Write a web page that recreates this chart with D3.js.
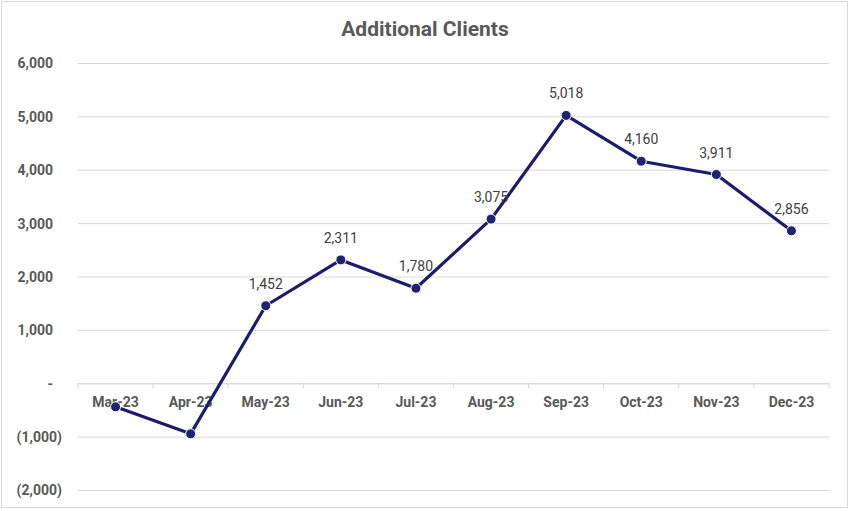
<!DOCTYPE html>
<html>
<head>
<meta charset="utf-8">
<script src="https://cdn.jsdelivr.net/npm/d3@7"></script>
<style>
  body { margin: 0; background: #fff; }
  svg { display: block; }
</style>
</head>
<body>
<svg id="chart" width="850" height="511"></svg>
<script>
// data
var months = ["Mar-23", "Apr-23", "May-23", "Jun-23", "Jul-23", "Aug-23", "Sep-23", "Oct-23", "Nov-23", "Dec-23"];
var clients = [-442, -948, 1452, 2311, 1780, 3075, 5018, 4160, 3911, 2856];
var yTicks = [-2000, -1000, 0, 1000, 2000, 3000, 4000, 5000, 6000];

var width = 850, height = 511;
var margin = {top: 63, right: 21, bottom: 21, left: 78};

var svg = d3.select("#chart");

// outer frame
svg.append("rect")
  .attr("x", 1.5)
  .attr("y", 1.5)
  .attr("width", width - 4)
  .attr("height", height - 5)
  .attr("fill", "#fff")
  .attr("stroke", "#d9d9d9")
  .attr("stroke-width", 1)

var x = d3.scaleBand()
  .domain(months)
  .range([margin.left, width - margin.right])

var y = d3.scaleLinear()
  .domain([-2000, 6000])
  .range([height - margin.bottom, margin.top])

var fmt = d3.format(",");
function acct(v) {
  if (v === 0) return "-";
  if (v < 0) return "(" + fmt(-v) + ")";
  return fmt(v);
}

// gridlines + y labels
var yAxis = svg.append("g")
  .attr("transform", "translate(" + margin.left + ",0)")
  .call(d3.axisLeft(y)
    .tickValues(yTicks)
    .tickSize(-(width - margin.left - margin.right))
    .tickFormat(acct))

yAxis.select(".domain").remove()
yAxis.selectAll(".tick line")
  .attr("stroke", "#d9d9d9")
  .attr("stroke-width", 1)
yAxis.selectAll(".tick text")
  .attr("x", function(d) { return d < 0 ? -16 : -25; })
  .attr("dy", "0.35em")
  .style("font-family", "Roboto, sans-serif")
  .style("font-weight", "bold")
  .style("font-size", "14px")
  .style("fill", "#595959")

// category axis on the zero line
var xAxis = svg.append("g")
  .attr("transform", "translate(0," + y(0) + ")")
  .call(d3.axisBottom(x).tickSize(0).tickPadding(14))

xAxis.select(".domain")
  .attr("stroke", "#d9d9d9")
xAxis.selectAll(".tick text")
  .style("font-family", "Roboto, sans-serif")
  .style("font-weight", "bold")
  .style("font-size", "14px")
  .style("fill", "#595959")

// little divider ticks between categories
var bounds = months.map(function(m) { return x(m); }).concat([x.range()[1]]);
svg.append("g").selectAll("line")
  .data(bounds)
  .join("line")
  .attr("x1", function(d) { return d; })
  .attr("x2", function(d) { return d; })
  .attr("y1", y(0))
  .attr("y2", y(0) + 5)
  .attr("stroke", "#d9d9d9")

// title
svg.append("text")
  .attr("x", width / 2)
  .attr("y", 36)
  .attr("text-anchor", "middle")
  .style("font-family", "Roboto, sans-serif")
  .style("font-weight", "bold")
  .style("font-size", "21px")
  .style("fill", "#595959")
  .text("Additional Clients")

var cx = function(d, i) { return x(months[i]) + x.bandwidth() / 2; };

// line
var line = d3.line()
  .x(function(d, i) { return cx(d, i); })
  .y(function(d) { return y(d); })

svg.append("path")
  .datum(clients)
  .attr("d", line)
  .attr("fill", "none")
  .attr("stroke", "#1b1b6f")
  .attr("stroke-width", 3.2)
  .attr("stroke-linejoin", "round")

// markers
svg.append("g").selectAll("circle")
  .data(clients)
  .join("circle")
  .attr("cx", cx)
  .attr("cy", function(d) { return y(d); })
  .attr("r", 5)
  .attr("fill", "#1f2372")
  .attr("stroke", "#fff")
  .attr("stroke-width", 1)

// data labels (only positive values shown in reference)
svg.append("g").selectAll("text")
  .data(clients)
  .join("text")
  .attr("x", cx)
  .attr("y", function(d) { return y(d) - 17; })
  .attr("text-anchor", "middle")
  .style("font-family", "Roboto, sans-serif")
  .style("font-size", "14px")
  .style("fill", "#404040")
  .text(function(d) { return d > 0 ? fmt(d) : ""; })
</script>
</body>
</html>
